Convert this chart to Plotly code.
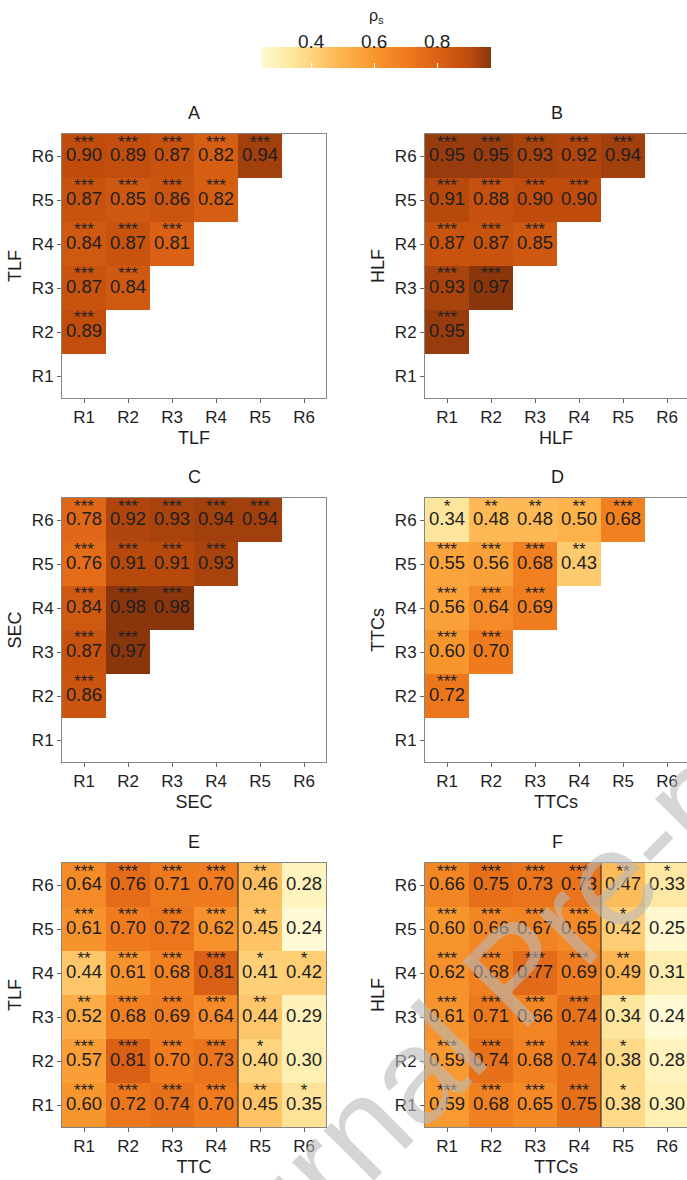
import plotly.graph_objects as go

# ---------------- data ----------------
regions = ["R1", "R2", "R3", "R4", "R5", "R6"]
panel_titles = ["A", "B", "C", "D", "E", "F"]
x_titles = ["TLF", "HLF", "SEC", "TTCs", "TTC", "TTCs"]
y_titles = ["TLF", "HLF", "SEC", "TTCs", "TLF", "HLF"]
cbar_ticks = [0.4, 0.6, 0.8]
cbar_title = "ρ<sub>s</sub>"
watermark = "Journal Pre-proof"

# rows: R1 (index 0) .. R6 (index 5); columns: R1 .. R6
A_rho = [
    [None, None, None, None, None, None],
    [0.89, None, None, None, None, None],
    [0.87, 0.84, None, None, None, None],
    [0.84, 0.87, 0.81, None, None, None],
    [0.87, 0.85, 0.86, 0.82, None, None],
    [0.90, 0.89, 0.87, 0.82, 0.94, None],
]
A_sig = [
    ["", "", "", "", "", ""],
    ["***", "", "", "", "", ""],
    ["***", "***", "", "", "", ""],
    ["***", "***", "***", "", "", ""],
    ["***", "***", "***", "***", "", ""],
    ["***", "***", "***", "***", "***", ""],
]
B_rho = [
    [None, None, None, None, None, None],
    [0.95, None, None, None, None, None],
    [0.93, 0.97, None, None, None, None],
    [0.87, 0.87, 0.85, None, None, None],
    [0.91, 0.88, 0.90, 0.90, None, None],
    [0.95, 0.95, 0.93, 0.92, 0.94, None],
]
B_sig = A_sig
C_rho = [
    [None, None, None, None, None, None],
    [0.86, None, None, None, None, None],
    [0.87, 0.97, None, None, None, None],
    [0.84, 0.98, 0.98, None, None, None],
    [0.76, 0.91, 0.91, 0.93, None, None],
    [0.78, 0.92, 0.93, 0.94, 0.94, None],
]
C_sig = A_sig
D_rho = [
    [None, None, None, None, None, None],
    [0.72, None, None, None, None, None],
    [0.60, 0.70, None, None, None, None],
    [0.56, 0.64, 0.69, None, None, None],
    [0.55, 0.56, 0.68, 0.43, None, None],
    [0.34, 0.48, 0.48, 0.50, 0.68, None],
]
D_sig = [
    ["", "", "", "", "", ""],
    ["***", "", "", "", "", ""],
    ["***", "***", "", "", "", ""],
    ["***", "***", "***", "", "", ""],
    ["***", "***", "***", "**", "", ""],
    ["*", "**", "**", "**", "***", ""],
]
E_rho = [
    [0.60, 0.72, 0.74, 0.70, 0.45, 0.35],
    [0.57, 0.81, 0.70, 0.73, 0.40, 0.30],
    [0.52, 0.68, 0.69, 0.64, 0.44, 0.29],
    [0.44, 0.61, 0.68, 0.81, 0.41, 0.42],
    [0.61, 0.70, 0.72, 0.62, 0.45, 0.24],
    [0.64, 0.76, 0.71, 0.70, 0.46, 0.28],
]
E_sig = [
    ["***", "***", "***", "***", "**", "*"],
    ["***", "***", "***", "***", "*", ""],
    ["**", "***", "***", "***", "**", ""],
    ["**", "***", "***", "***", "*", "*"],
    ["***", "***", "***", "***", "**", ""],
    ["***", "***", "***", "***", "**", ""],
]
F_rho = [
    [0.59, 0.68, 0.65, 0.75, 0.38, 0.30],
    [0.59, 0.74, 0.68, 0.74, 0.38, 0.28],
    [0.61, 0.71, 0.66, 0.74, 0.34, 0.24],
    [0.62, 0.68, 0.77, 0.69, 0.49, 0.31],
    [0.60, 0.66, 0.67, 0.65, 0.42, 0.25],
    [0.66, 0.75, 0.73, 0.73, 0.47, 0.33],
]
F_sig = [
    ["***", "***", "***", "***", "*", ""],
    ["***", "***", "***", "***", "*", ""],
    ["***", "***", "***", "***", "*", ""],
    ["***", "***", "***", "***", "**", ""],
    ["***", "***", "***", "***", "*", ""],
    ["***", "***", "***", "***", "**", "*"],
]
panels_rho = [A_rho, B_rho, C_rho, D_rho, E_rho, F_rho]
panels_sig = [A_sig, B_sig, C_sig, D_sig, E_sig, F_sig]
split_panels = [4, 5]  # panels (E, F) with the TTC R4|R5 divider

# ---------------- styling ----------------
W, H = 687, 1180
FONT = "Liberation Sans, Arial, sans-serif"
CMIN, CMAX = 0.24, 0.97
stops = [(0.24, "#FFFAD4"), (0.32, "#FEEBA8"), (0.40, "#FED47E"), (0.50, "#FDB24C"),
         (0.60, "#F8962E"), (0.70, "#EF7B1E"), (0.80, "#DC6215"), (0.90, "#BF4C0D"),
         (0.97, "#8A360D")]
colorscale = [[(v - CMIN) / (CMAX - CMIN), c] for v, c in stops]

CELL = 44.0
col_left = [62, 425]
row_top = [134, 498, 863]
SIZE = 264
TXT = "#1e1e1e"
STAR_OFFSET = 0.29


def px_x(p):
    return p / W


def px_y(p):
    return 1 - p / H


fig = go.Figure()
idx = list(range(6))
layout_axes = {}
annotations = []
shapes = []

for k in range(6):
    r, c = divmod(k, 2)
    n = "" if k == 0 else str(k + 1)
    xa, ya = "x" + n, "y" + n
    z = panels_rho[k]
    sig = panels_sig[k]
    fig.add_trace(go.Heatmap(z=z, x=idx, y=idx, coloraxis="coloraxis", xaxis=xa, yaxis=ya,
                             hoverinfo="skip", xgap=0, ygap=0))
    tx, ty, tt, sx, sy, st = [], [], [], [], [], []
    for i in range(6):
        for j in range(6):
            if z[i][j] is None:
                continue
            tx.append(j); ty.append(i); tt.append(f"{z[i][j]:.2f}")
            if sig[i][j]:
                sx.append(j); sy.append(i + STAR_OFFSET); st.append(sig[i][j])
    fig.add_trace(go.Scatter(x=tx, y=ty, text=tt, mode="text", xaxis=xa, yaxis=ya,
                             textfont=dict(family=FONT, size=18.5, color=TXT),
                             hoverinfo="skip", showlegend=False, cliponaxis=False))
    fig.add_trace(go.Scatter(x=sx, y=sy, text=st, mode="text", xaxis=xa, yaxis=ya,
                             textfont=dict(family=FONT, size=17, color="#222222"),
                             hoverinfo="skip", showlegend=False, cliponaxis=False))

    left = col_left[c]
    right = min(left + SIZE, W)
    top = row_top[r]
    bottom = top + SIZE
    xr = [-0.5, -0.5 + (right - left) / CELL]
    axis_common = dict(showline=True, linecolor="#858585", linewidth=1, ticks="outside",
                       ticklen=4, tickcolor="#666666", tickvals=idx, ticktext=regions,
                       showgrid=False, zeroline=False, fixedrange=True,
                       tickfont=dict(family=FONT, size=17, color=TXT))
    layout_axes["xaxis" + n] = dict(axis_common, domain=[px_x(left), px_x(right)], range=xr,
                                    anchor=ya, mirror=True,
                                    title=dict(text=x_titles[k], standoff=4,
                                               font=dict(family=FONT, size=18, color=TXT)))
    layout_axes["yaxis" + n] = dict(axis_common, domain=[px_y(bottom), px_y(top)],
                                    range=[-0.5, 5.5], anchor=xa, mirror=(c == 0),
                                    title=dict(text=y_titles[k], standoff=5,
                                               font=dict(family=FONT, size=18, color=TXT)))
    annotations.append(dict(text=panel_titles[k], x=px_x((left + left + SIZE) / 2),
                            y=px_y(top - 21), xref="paper", yref="paper", showarrow=False,
                            xanchor="center", yanchor="middle",
                            font=dict(family=FONT, size=18, color=TXT)))
    if k in split_panels:
        shapes.append(dict(type="line", xref=xa, yref=ya, x0=3.5, x1=3.5, y0=-0.5, y1=5.5,
                           line=dict(color="#222222", width=1)))

# colour bar
cb_left, cb_right, cb_bottom, cb_thick = 261, 491, 73, 21
fig.update_layout(coloraxis=dict(
    colorscale=colorscale, cmin=CMIN, cmax=CMAX,
    colorbar=dict(orientation="h", x=px_x((cb_left + cb_right) / 2), xanchor="center",
                  y=px_y(cb_bottom), yanchor="bottom", len=(cb_right - cb_left) / W,
                  lenmode="fraction", thickness=cb_thick, thicknessmode="pixels",
                  outlinewidth=0, xpad=0, ypad=0, tickvals=cbar_ticks, ticks="inside",
                  tickcolor="white", ticklen=5, showticklabels=False)))
for v in cbar_ticks:
    annotations.append(dict(text=f"{v:.1f}",
                            x=px_x(cb_left + (v - CMIN) / (CMAX - CMIN) * (cb_right - cb_left)),
                            y=px_y(42), xref="paper", yref="paper", showarrow=False,
                            xanchor="center", yanchor="middle",
                            font=dict(family=FONT, size=19, color=TXT)))
annotations.append(dict(text=cbar_title, x=px_x(376), y=px_y(16), xref="paper", yref="paper",
                        showarrow=False, xanchor="center", yanchor="middle",
                        font=dict(family=FONT, size=16, color=TXT)))
annotations.append(dict(text=watermark, x=px_x(516), y=px_y(972), xref="paper", yref="paper",
                        showarrow=False, textangle=-45, xanchor="center", yanchor="middle",
                        font=dict(family=FONT, size=134, color="rgba(185,185,185,0.6)")))

fig.update_layout(width=W, height=H, margin=dict(l=0, r=0, t=0, b=0),
                  paper_bgcolor="white", plot_bgcolor="white", showlegend=False,
                  annotations=annotations, shapes=shapes, **layout_axes)
fig.write_html("out.html", config={"displayModeBar": False},
               post_script="document.body.style.margin='0';document.body.style.overflow='hidden';")
